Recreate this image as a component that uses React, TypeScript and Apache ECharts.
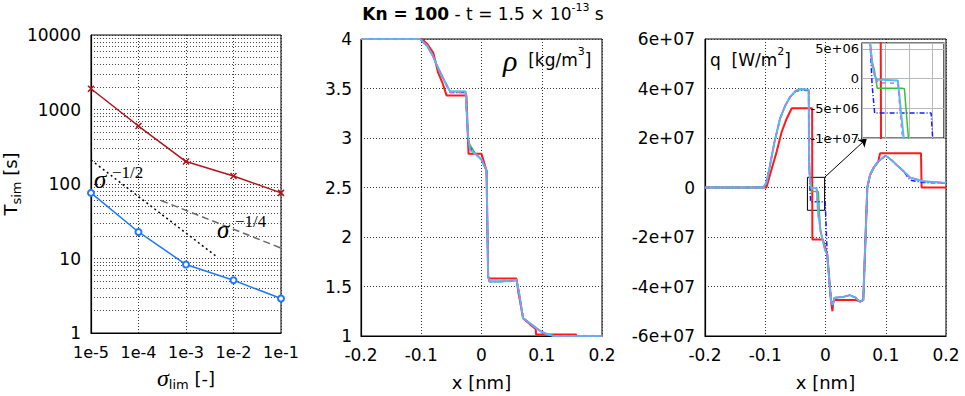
import React, { useEffect, useRef } from 'react';
import * as echarts from 'echarts';

// ---------- Left panel: simulation time vs sigma_lim ----------
const sigmaLim = [1e-5, 1e-4, 1e-3, 1e-2, 1e-1];
const tsimRed = [1900, 600, 200, 128, 76];
const tsimBlue = [76, 22.7, 8.3, 5.1, 2.9];
const slopeHalfX = [1e-5, 4.5e-3];
const slopeHalfY = [210, 10.5];
const slopeQuarterX = [3e-4, 1e-1];
const slopeQuarterY = [60, 13.8];

// ---------- Middle panel: density ----------
const rhoX = [-0.2, -0.102, -0.09, -0.08, -0.0745, -0.065, -0.055, -0.052, -0.0265, -0.024, -0.022, -0.019, -0.01, 0.0, 0.0084, 0.011, 0.013, 0.03, 0.05, 0.0553, 0.058, 0.062, 0.069, 0.08, 0.091, 0.1, 0.108, 0.12, 0.2];
const rhoCyan = [4, 4, 3.93, 3.82, 3.74, 3.62, 3.5, 3.47, 3.47, 3.2, 3.0, 2.88, 2.84, 2.78, 2.67, 1.6, 1.55, 1.55, 1.555, 1.56, 1.57, 1.45, 1.18, 1.13, 1.08, 1.04, 1.02, 1.0, 1.0];
const rhoMagenta = [4, 4, 3.93, 3.82, 3.74, 3.62, 3.5, 3.46, 3.46, 3.2, 2.98, 2.88, 2.84, 2.78, 2.67, 1.6, 1.55, 1.55, 1.555, 1.56, 1.57, 1.45, 1.18, 1.13, 1.08, 1.04, 1.02, 1.0, 1.0];
const rhoGreen = [4, 4, 3.93, 3.82, 3.74, 3.62, 3.5, 3.47, 3.47, 3.2, 2.98, 2.93, 2.84, 2.78, 2.67, 1.6, 1.55, 1.55, 1.555, 1.56, 1.57, 1.45, 1.18, 1.13, 1.08, 1.04, 1.02, 1.0, 1.0];
const rhoBlue = [4, 4, 3.93, 3.82, 3.74, 3.62, 3.5, 3.46, 3.46, 3.2, 2.95, 2.9, 2.84, 2.78, 2.67, 1.6, 1.55, 1.55, 1.555, 1.56, 1.57, 1.45, 1.18, 1.13, 1.08, 1.04, 1.02, 1.0, 1.0];
const rhoRedX = [-0.2, -0.099, -0.09, -0.08, -0.072, -0.065, -0.058, -0.025, -0.0225, -0.0215, 0.0, 0.0084, 0.011, 0.013, 0.058, 0.061, 0.069, 0.08, 0.09, 0.0905, 0.157, 0.158, 0.2];
const rhoRed = [4, 4, 3.95, 3.86, 3.66, 3.56, 3.43, 3.43, 3.0, 2.84, 2.84, 2.67, 1.6, 1.58, 1.58, 1.45, 1.18, 1.12, 1.07, 1.015, 1.015, 1.0, 1.0];

// ---------- Right panel: heat flux ----------
const qX = [-0.2, -0.103, -0.098, -0.092, -0.085, -0.0755, -0.067, -0.059, -0.05, -0.0425, -0.028, -0.0274, -0.0265, -0.0257, -0.0246, -0.0235, -0.0215, -0.0147, -0.013, -0.0119, -0.0102, -0.0083, -0.0005, 0.0028, 0.0055, 0.0093, 0.012, 0.015, 0.03, 0.04, 0.05, 0.057, 0.0627, 0.0694, 0.074, 0.08, 0.0876, 0.0996, 0.11, 0.118, 0.13, 0.14, 0.162, 0.2];
const qCyan = [0, 0, 2e6, 9.1e6, 1.8e7, 2.78e7, 3.3e7, 3.65e7, 3.9e7, 3.97e7, 3.95e7, 1.5e7, 6e6, 2.5e6, 0.5e6, -0.2e6, -0.2e6, -0.3e6, -7e6, -1.1e7, -1.35e7, -1.75e7, -2.55e7, -2.69e7, -3.49e7, -4.62e7, -4.75e7, -4.45e7, -4.42e7, -4.35e7, -4.45e7, -4.62e7, -4.55e7, 0, 5.1e6, 8e6, 1.05e7, 1.29e7, 1.1e7, 9.1e6, 6.5e6, 4.1e6, 2.5e6, 1.8e6];
const qMagenta = [0, 0, 2e6, 9.1e6, 1.8e7, 2.78e7, 3.3e7, 3.65e7, 3.9e7, 3.97e7, 3.95e7, 1.5e7, 6e6, 2.5e6, 0.5e6, -0.5e6, -0.7e6, -0.8e6, -9e6, -1.15e7, -1.35e7, -1.75e7, -2.55e7, -2.69e7, -3.49e7, -4.62e7, -4.75e7, -4.45e7, -4.42e7, -4.35e7, -4.45e7, -4.62e7, -4.55e7, 0, 5.1e6, 8e6, 1.05e7, 1.29e7, 1.1e7, 9.1e6, 6.5e6, 4.1e6, 2.5e6, 1.8e6];
const qGreen = [0, 0, 2e6, 9.1e6, 1.8e7, 2.78e7, 3.3e7, 3.65e7, 3.9e7, 3.97e7, 3.95e7, 1.5e7, 6e6, 3e6, 1.2e6, -1.6e6, -1.6e6, -1.6e6, -1.6e6, -1.7e6, -1e7, -1.75e7, -2.55e7, -2.69e7, -3.49e7, -4.62e7, -4.75e7, -4.45e7, -4.42e7, -4.35e7, -4.45e7, -4.62e7, -4.55e7, 0, 5.1e6, 8e6, 1.05e7, 1.29e7, 1.1e7, 9.1e6, 6.5e6, 4.1e6, 2.5e6, 1.8e6];
const qBlue = [0, 0, 2e6, 9.1e6, 1.8e7, 2.78e7, 3.3e7, 3.65e7, 3.88e7, 3.93e7, 3.92e7, 1.2e7, 6e6, -1e6, -5.8e6, -5.8e6, -5.8e6, -5.8e6, -5.8e6, -5.8e6, -5.8e6, -5.8e6, -5.8e6, -2.69e7, -3.49e7, -4.62e7, -4.75e7, -4.45e7, -4.42e7, -4.35e7, -4.45e7, -4.62e7, -4.55e7, 0, 5.1e6, 8e6, 1.05e7, 1.29e7, 1.1e7, 9.1e6, 6.5e6, 3e6, 2e6, 1.8e6];
const qRedX = [-0.2, -0.098, -0.09, -0.081, -0.0727, -0.0645, -0.056, -0.0222, -0.0218, -0.0045, 0.0028, 0.0055, 0.0093, 0.0115, 0.013, 0.015, 0.05, 0.057, 0.0627, 0.0694, 0.074, 0.08, 0.0876, 0.0905, 0.1585, 0.1595, 0.2];
const qRed = [0, 0, 7e6, 1.45e7, 2.25e7, 2.78e7, 3.2e7, 3.2e7, -2.1e7, -2.1e7, -2.69e7, -3.49e7, -4.62e7, -5.0e7, -4.6e7, -4.55e7, -4.55e7, -4.6e7, -4.55e7, 0, 5.1e6, 8e6, 1.05e7, 1.38e7, 1.38e7, 0, 0];

// zoom box & arrow (data coordinates of the main q panel)
const zoomBoxX = [-0.03, -0.0015];
const zoomBoxY = [4.1e6, -9.2e6];
const arrowEnd = [0.0685, 1.98e7];

const FONT = 'DejaVu Sans';
const SERIF = 'Liberation Serif';
const C_RED = '#ff1a1a';
const C_GREEN = '#33c233';
const C_BLUE = '#1a1aff';
const C_CYAN = '#45c3f2';
const C_MAG = '#d86ee6';

const zip = (xs: number[], ys: number[]) => xs.map((x, i) => [x, ys[i]]);

function sci(v: number): string {
  if (v === 0) return '0';
  const e = Math.floor(Math.log10(Math.abs(v)) + 1e-9);
  const m = Math.round(v / Math.pow(10, e));
  return `${m}e${e < 0 ? '-' : '+'}${String(Math.abs(e)).padStart(2, '0')}`;
}

const dotted = { show: true, lineStyle: { color: '#333', type: [1, 2] as any, width: 1 } };
const labelStyle = { fontFamily: FONT, fontSize: 17, color: '#000' };
const axisLine = { show: true, onZero: false, lineStyle: { color: '#000', width: 1.2 } };

function prof(xs: number[], ys: number[], color: string, width: number, type: any, gi: number, z: number) {
  return {
    type: 'line', xAxisIndex: gi, yAxisIndex: gi, data: zip(xs, ys), symbol: 'none', showSymbol: false,
    lineStyle: { color, width, type }, z, clip: true, silent: true,
  };
}

function profileSet(gi: number, rx: number[], r: number[], xs: number[], g: number[], b: number[], c: number[], m: number[], z: number, extraRed: any = {}) {
  return [
    { ...prof(rx, r, C_RED, 2, 'solid', gi, z), ...extraRed },
    prof(xs, g, C_GREEN, 1.5, 'solid', gi, z),
    prof(xs, b, C_BLUE, 1.5, [5, 2, 1, 2], gi, z),
    prof(xs, c, C_CYAN, 2, 'solid', gi, z),
    prof(xs, m, C_MAG, 1.5, [4, 4], gi, z),
  ];
}

const nameRich = {
  n: { fontFamily: FONT, fontSize: 18, color: '#000', lineHeight: 26 },
  s: { fontFamily: SERIF, fontStyle: 'italic', fontSize: 24, color: '#000', lineHeight: 26 },
  b: { fontFamily: FONT, fontSize: 13, color: '#000', lineHeight: 12, verticalAlign: 'bottom' },
};

const sigmaStyle = { fontFamily: SERIF, fontStyle: 'italic', fontSize: 25, fill: '#000', align: 'left', verticalAlign: 'middle', textAlign: 'left', textVerticalAlign: 'middle' };
const supStyle = { fontFamily: SERIF, fontSize: 17, fill: '#000', align: 'left', verticalAlign: 'middle', textAlign: 'left', textVerticalAlign: 'middle' };

const option: any = {
  animation: false,
  backgroundColor: '#fff',
  grid: [
    { left: 80, top: 35, width: 201, height: 303, show: true, borderColor: '#000', borderWidth: 1, backgroundColor: 'transparent' },
    { left: 361, top: 39, width: 241, height: 301, show: true, borderColor: '#000', borderWidth: 1, backgroundColor: 'transparent' },
    { left: 705, top: 39, width: 241, height: 301, show: true, borderColor: '#000', borderWidth: 1, backgroundColor: 'transparent' },
    { left: 862, top: 43, width: 82, height: 95, show: true, borderColor: '#000', borderWidth: 1.2, backgroundColor: '#fff', z: 10 },
  ],
  xAxis: [
    {
      gridIndex: 0, type: 'log', logBase: 10, min: 1e-5, max: 0.1,
      axisLine, axisTick: { show: false }, splitLine: dotted,
      axisLabel: { ...labelStyle, fontSize: 16, margin: 11, formatter: (v: number) => '1e' + Math.round(Math.log10(v)) },
      name: '{s|σ}{b|lim}{n| [-]}', nameLocation: 'middle', nameGap: 32,
      nameTextStyle: { rich: nameRich },
    },
    {
      gridIndex: 1, type: 'value', min: -0.2, max: 0.2, interval: 0.1,
      axisLine, axisTick: { show: false }, splitLine: dotted,
      axisLabel: { ...labelStyle, margin: 10 },
      name: 'x [nm]', nameLocation: 'middle', nameGap: 37,
      nameTextStyle: { fontFamily: FONT, fontSize: 18, color: '#000' },
    },
    {
      gridIndex: 2, type: 'value', min: -0.2, max: 0.2, interval: 0.1,
      axisLine, axisTick: { show: false }, splitLine: dotted,
      axisLabel: { ...labelStyle, margin: 10 },
      name: 'x [nm]', nameLocation: 'middle', nameGap: 37,
      nameTextStyle: { fontFamily: FONT, fontSize: 18, color: '#000' },
    },
    {
      gridIndex: 3, type: 'value', min: -0.03, max: 0.005, interval: 0.01, z: 11,
      axisLine: { show: false }, axisTick: { show: false }, axisLabel: { show: false },
      splitLine: { show: true, lineStyle: { color: '#b8b8b8', width: 1, type: 'solid' } },
    },
  ],
  yAxis: [
    {
      gridIndex: 0, type: 'log', logBase: 10, min: 1, max: 10000,
      axisLine, axisTick: { show: false }, splitLine: dotted,
      minorTick: { show: false, splitNumber: 9 },
      minorSplitLine: { show: true, lineStyle: { color: '#444', type: [1, 2], width: 1 } },
      axisLabel: { ...labelStyle, margin: 10, formatter: (v: number) => String(Math.round(v)) },
      name: '{n|T}{b|sim}{n| [s]}', nameLocation: 'middle', nameGap: 56, nameRotate: 90,
      nameTextStyle: { rich: nameRich },
    },
    {
      gridIndex: 1, type: 'value', min: 1, max: 4, interval: 0.5,
      axisLine, axisTick: { show: false }, splitLine: dotted,
      axisLabel: { ...labelStyle, margin: 9 },
    },
    {
      gridIndex: 2, type: 'value', min: -6e7, max: 6e7, interval: 2e7,
      axisLine, axisTick: { show: false }, splitLine: dotted,
      axisLabel: { ...labelStyle, margin: 10, formatter: sci },
    },
    {
      gridIndex: 3, type: 'value', min: -1e7, max: 6e6, interval: 5e6, z: 11,
      axisLine: { show: false }, axisTick: { show: false },
      splitLine: { show: true, lineStyle: { color: '#b8b8b8', width: 1, type: 'solid' } },
      axisLabel: { fontFamily: FONT, fontSize: 13, color: '#000', margin: 3, showMaxLabel: false, formatter: sci },
    },
  ],
  series: [
    // left panel
    {
      type: 'line', xAxisIndex: 0, yAxisIndex: 0, data: zip(slopeHalfX, slopeHalfY), symbol: 'none',
      lineStyle: { color: '#000', width: 1.5, type: [2, 3] }, silent: true,
    },
    {
      type: 'line', xAxisIndex: 0, yAxisIndex: 0, data: zip(slopeQuarterX, slopeQuarterY), symbol: 'none',
      lineStyle: { color: '#666', width: 1.5, type: [7, 4] }, silent: true,
    },
    {
      type: 'line', xAxisIndex: 0, yAxisIndex: 0, data: zip(sigmaLim, tsimRed),
      symbol: 'path://M0,0L10,10M10,0L0,10', symbolSize: 6,
      itemStyle: { color: '#b3121b', borderColor: '#b3121b', borderWidth: 1.5 },
      lineStyle: { color: '#b3121b', width: 1.5 }, silent: true,
    },
    {
      type: 'line', xAxisIndex: 0, yAxisIndex: 0, data: zip(sigmaLim, tsimBlue),
      symbol: 'emptyCircle', symbolSize: 6,
      itemStyle: { color: '#1f78ff', borderColor: '#1f78ff', borderWidth: 1.5 },
      lineStyle: { color: '#1f78ff', width: 1.5 }, silent: true,
    },
    // middle panel
    ...profileSet(1, rhoRedX, rhoRed, rhoX, rhoGreen, rhoBlue, rhoCyan, rhoMagenta, 2),
    // right panel
    ...profileSet(2, qRedX, qRed, qX, qGreen, qBlue, qCyan, qMagenta, 2, {
      markArea: {
        silent: true,
        itemStyle: { color: 'rgba(0,0,0,0)', borderColor: '#000', borderWidth: 1 },
        data: [[{ coord: [zoomBoxX[0], zoomBoxY[0]] }, { coord: [zoomBoxX[1], zoomBoxY[1]] }]],
      },
      markLine: {
        silent: true, symbol: ['none', 'arrow'], symbolSize: 8,
        lineStyle: { color: '#000', width: 1, type: 'solid' }, label: { show: false },
        data: [[{ coord: [zoomBoxX[1], zoomBoxY[0]] }, { coord: arrowEnd }]],
      },
    }),
    // inset
    ...profileSet(3, qRedX, qRed, qX, qGreen, qBlue, qCyan, qMagenta, 12),
  ],
  graphic: [
    {
      type: 'text', x: 483, y: 14, z: 20,
      style: {
        text: '{b|Kn = 100}{n| - t = 1.5 × 10}{p|-13}{n| s}',
        align: 'center', verticalAlign: 'middle', textAlign: 'center', textVerticalAlign: 'middle',
        rich: {
          b: { fontFamily: FONT, fontWeight: 'bold', fontSize: 17, lineHeight: 24, fill: '#000' },
          n: { fontFamily: FONT, fontSize: 17, lineHeight: 24, fill: '#000' },
          p: { fontFamily: FONT, fontSize: 11, lineHeight: 12, verticalAlign: 'top', fill: '#000' },
        },
      },
    },
    { type: 'text', x: 94, y: 179, z: 20, style: { ...sigmaStyle, text: 'σ' } },
    { type: 'text', x: 112, y: 172, z: 20, style: { ...supStyle, text: '−1/2' } },
    { type: 'text', x: 217, y: 229, z: 20, style: { ...sigmaStyle, text: 'σ' } },
    { type: 'text', x: 235, y: 221, z: 20, style: { ...supStyle, text: '−1/4' } },
    {
      type: 'text', x: 503, y: 60, z: 20,
      style: {
        text: '{r|ρ}{n|  [kg/m}{p|3}{n|]}', align: 'left', verticalAlign: 'middle', textAlign: 'left', textVerticalAlign: 'middle',
        rich: {
          r: { fontFamily: SERIF, fontStyle: 'italic', fontSize: 30, lineHeight: 28, fill: '#000' },
          n: { fontFamily: FONT, fontSize: 17, lineHeight: 28, fill: '#000' },
          p: { fontFamily: FONT, fontSize: 11, lineHeight: 14, verticalAlign: 'top', fill: '#000' },
        },
      },
    },
    {
      type: 'text', x: 710, y: 60, z: 20,
      style: {
        text: '{n|q  [W/m}{p|2}{n|]}', align: 'left', verticalAlign: 'middle', textAlign: 'left', textVerticalAlign: 'middle',
        rich: {
          n: { fontFamily: FONT, fontSize: 17, lineHeight: 28, fill: '#000' },
          p: { fontFamily: FONT, fontSize: 11, lineHeight: 14, verticalAlign: 'top', fill: '#000' },
        },
      },
    },
  ],
};

export default function App() {
  const ref = useRef<HTMLDivElement>(null);
  useEffect(() => {
    if (!ref.current) return;
    const chart = echarts.init(ref.current, undefined, { renderer: 'svg', width: 965, height: 396 });
    chart.setOption(option);
    return () => chart.dispose();
  }, []);
  return (
    <div
      ref={ref}
      style={{ position: 'fixed', left: 0, top: 0, width: 965, height: 396, background: '#fff' }}
    />
  );
}
